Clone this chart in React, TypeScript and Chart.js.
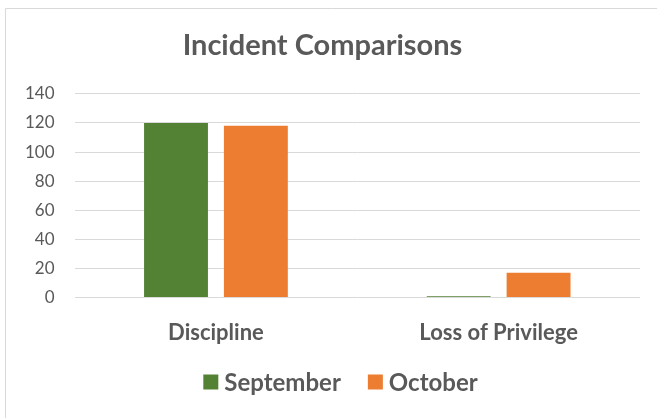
import React, { useEffect, useRef } from "react";
import { Chart, registerables } from "chart.js";

Chart.register(...registerables);

const categories = ["Discipline", "Loss of Privilege"];
const september = [120, 1];
const october = [118, 17];
const seriesNames = ["September", "October"];
const seriesColors = ["#548235", "#ed7d31"];
const yTicks = [0, 20, 40, 60, 80, 100, 120, 140];

const FONT = "Lato, 'Open Sans', sans-serif";

const framePlugin = {
  id: "frame",
  beforeDraw(chart: any) {
    const ctx = chart.ctx;
    ctx.save();
    ctx.fillStyle = "#ffffff";
    ctx.fillRect(0, 0, chart.width, chart.height);
    ctx.strokeStyle = "#d9d9d9";
    ctx.lineWidth = 1;
    ctx.beginPath();
    ctx.moveTo(5.5, chart.height);
    ctx.lineTo(5.5, 8.5);
    ctx.lineTo(chart.width, 8.5);
    ctx.stroke();
    ctx.restore();
  },
};

// Legend drawn from the chart's datasets (Excel-like spacing)
const bottomLegend = {
  id: "bottomLegend",
  afterDraw(chart: any) {
    const ctx = chart.ctx;
    const box = 15;
    const boxGap = 6;
    const itemGap = 27;
    const cy = 382;
    ctx.save();
    ctx.font = `bold 24px ${FONT}`;
    ctx.textBaseline = "middle";
    const items = chart.data.datasets.map((ds: any) => ({
      label: ds.label,
      color: ds.backgroundColor,
      w: ctx.measureText(ds.label).width,
    }));
    const total =
      items.reduce((s: number, it: any) => s + box + boxGap + it.w, 0) +
      itemGap * (items.length - 1);
    let x = chart.width / 2 + 12 - total / 2;
    for (const it of items) {
      ctx.fillStyle = it.color;
      ctx.fillRect(x, cy - box / 2, box, box);
      x += box + boxGap;
      ctx.fillStyle = "#595959";
      ctx.fillText(it.label, x, cy + 1);
      x += it.w + itemGap;
    }
    ctx.restore();
  },
};

export default function App() {
  const ref = useRef<HTMLCanvasElement>(null);
  useEffect(() => {
    document.body.style.margin = "0";
    const chart = new Chart(ref.current!, {
      type: "bar",
      data: {
        labels: categories,
        datasets: [
          {
            label: seriesNames[0],
            data: september,
            backgroundColor: seriesColors[0],
            borderWidth: 0,
          },
          {
            label: seriesNames[1],
            data: october,
            backgroundColor: seriesColors[1],
            borderWidth: 0,
          },
        ],
      },
      options: {
        animation: false,
        responsive: false,
        maintainAspectRatio: false,
        layout: { padding: { left: 5, right: 17, top: 27, bottom: 50 } },
        datasets: {
          bar: { categoryPercentage: 0.565, barPercentage: 0.8 },
        },
        plugins: {
          title: {
            display: true,
            text: "Incident Comparisons",
            color: "#595959",
            font: { family: FONT, size: 29, weight: "bold" },
            padding: { top: 1, bottom: 31 },
          },
          legend: { display: false },
          tooltip: { enabled: false },
        },
        scales: {
          x: {
            grid: { display: false, drawTicks: false },
            border: { display: false },
            ticks: {
              color: "#595959",
              font: { family: FONT, size: 22, weight: "bold" },
              padding: 22,
            },
          },
          y: {
            min: 0,
            max: 140,
            afterBuildTicks(axis: any) {
              axis.ticks = yTicks.map((v) => ({ value: v }));
            },
            grid: { color: "#d9d9d9", drawTicks: false, lineWidth: 1 },
            border: { display: false },
            ticks: {
              color: "#595959",
              font: { family: FONT, size: 17 },
              padding: 20,
            },
          },
        },
      },
      plugins: [framePlugin, bottomLegend],
    });
    return () => chart.destroy();
  }, []);
  return (
    <div style={{ width: 657, height: 418 }}>
      <canvas ref={ref} width={657} height={418} style={{ display: "block" }} />
    </div>
  );
}
